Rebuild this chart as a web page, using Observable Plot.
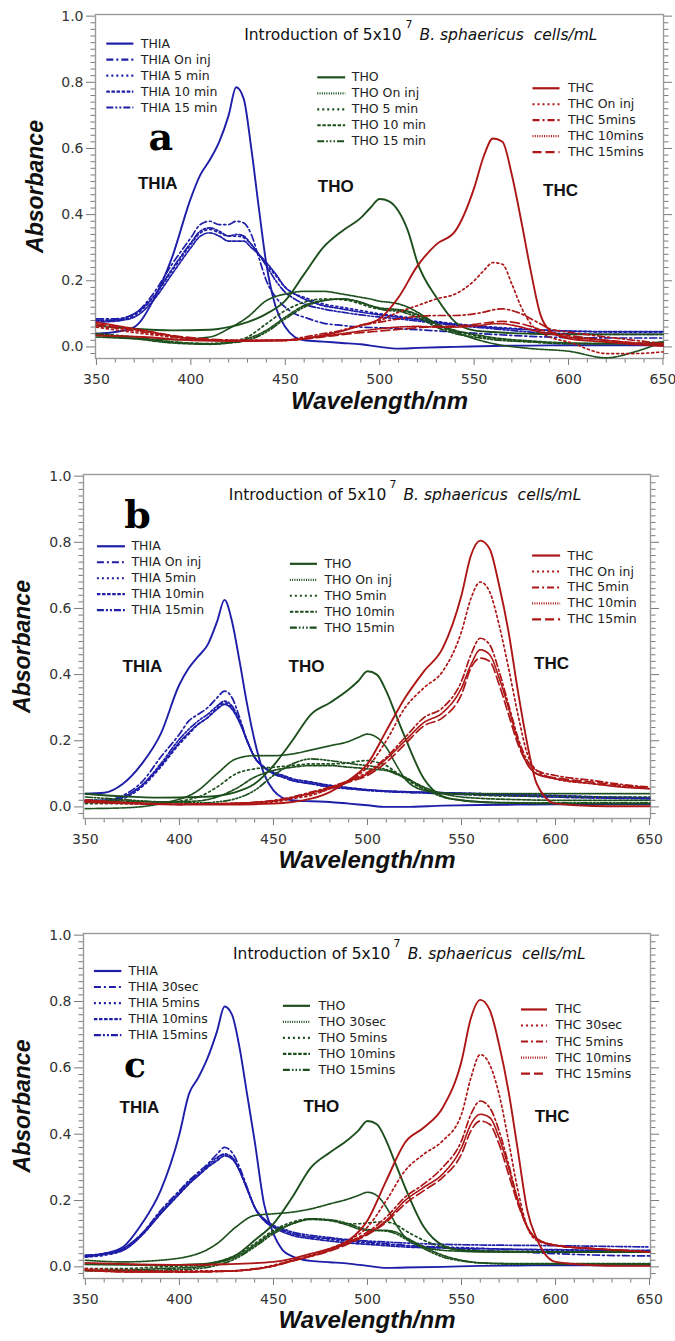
<!DOCTYPE html>
<html><head><meta charset="utf-8">
<script src="https://cdn.jsdelivr.net/npm/d3@7"></script>
<script src="https://cdn.jsdelivr.net/npm/@observablehq/plot@0.6"></script>
<style>
body{margin:0;background:#fff;width:675px;}
#chart svg{display:block;}
</style></head><body><div id="chart"></div>
<script>
// ---------- wavelength grids (nm) ----------
const WL_THIA = [350,360,370,380,390,400,405,410,415,420,424,428,432,436,440,445,450,455,460,470,480,490,500,510,520,540,560,580,600,625,650];
const WL_THO  = [350,370,390,410,420,430,440,450,460,470,480,490,495,500,505,510,515,520,530,540,550,560,580,600,620,635,650];
const WL_THC  = [350,375,400,425,450,460,470,480,490,500,510,520,530,540,550,555,560,565,570,575,580,585,590,600,620,635,650];

// ---------- panel a ----------
const aTHIA0 = [0.04,0.045,0.06,0.14,0.27,0.45,0.52,0.565,0.62,0.7,0.785,0.75,0.6,0.42,0.25,0.12,0.06,0.03,0.02,0.016,0.012,0.008,0.0,-0.005,-0.003,0.0,0.003,0.004,0.005,0.005,0.005];
const aTHIA1 = [0.085,0.085,0.1,0.16,0.25,0.33,0.37,0.38,0.37,0.37,0.38,0.375,0.34,0.27,0.2,0.15,0.12,0.1,0.09,0.072,0.065,0.06,0.058,0.055,0.052,0.045,0.038,0.032,0.028,0.027,0.027];
const aTHIA2 = [0.08,0.08,0.095,0.15,0.23,0.31,0.345,0.355,0.345,0.335,0.335,0.33,0.31,0.28,0.25,0.215,0.18,0.16,0.15,0.13,0.12,0.11,0.1,0.093,0.085,0.07,0.06,0.053,0.048,0.045,0.045];
const aTHIA3 = [0.075,0.078,0.09,0.14,0.22,0.3,0.335,0.345,0.335,0.32,0.32,0.32,0.3,0.28,0.255,0.22,0.18,0.16,0.145,0.125,0.115,0.105,0.097,0.09,0.082,0.068,0.058,0.052,0.048,0.046,0.046];
const aTHIA4 = [0.08,0.082,0.1,0.15,0.235,0.315,0.35,0.36,0.35,0.335,0.34,0.335,0.31,0.28,0.245,0.2,0.165,0.145,0.13,0.115,0.105,0.097,0.09,0.085,0.078,0.065,0.055,0.045,0.04,0.038,0.038];
const aTHO0 = [0.065,0.055,0.05,0.052,0.06,0.075,0.1,0.14,0.22,0.3,0.35,0.39,0.42,0.447,0.44,0.41,0.35,0.255,0.15,0.075,0.05,0.045,0.04,0.038,0.038,0.038,0.038];
const aTHO1 = [0.03,0.025,0.022,0.03,0.055,0.09,0.14,0.16,0.168,0.168,0.16,0.15,0.145,0.138,0.135,0.13,0.12,0.105,0.07,0.045,0.025,0.01,-0.005,-0.013,-0.033,-0.015,0.015];
const aTHO2 = [0.04,0.03,0.015,0.01,0.015,0.03,0.07,0.11,0.135,0.145,0.143,0.13,0.12,0.115,0.112,0.11,0.105,0.095,0.065,0.045,0.035,0.025,0.015,0.01,0.01,0.01,0.015];
const aTHO3 = [0.035,0.025,0.012,0.008,0.012,0.025,0.05,0.09,0.125,0.14,0.145,0.135,0.125,0.118,0.115,0.113,0.108,0.098,0.07,0.05,0.038,0.028,0.018,0.012,0.01,0.01,0.015];
const aTHO4 = [0.04,0.028,0.015,0.01,0.012,0.02,0.045,0.085,0.12,0.14,0.145,0.135,0.125,0.115,0.11,0.108,0.1,0.09,0.06,0.04,0.03,0.022,0.015,0.01,0.01,0.01,0.012];
const aTHC0 = [0.035,0.03,0.02,0.018,0.02,0.025,0.035,0.048,0.065,0.085,0.15,0.245,0.31,0.35,0.48,0.575,0.63,0.62,0.52,0.38,0.23,0.1,0.05,0.025,0.015,0.008,0.003];
const aTHC1 = [0.06,0.04,0.025,0.02,0.02,0.025,0.035,0.05,0.065,0.08,0.105,0.125,0.145,0.16,0.2,0.23,0.255,0.25,0.19,0.12,0.07,0.045,0.03,0.015,-0.02,-0.02,-0.015];
const aTHC2 = [0.065,0.045,0.025,0.02,0.02,0.03,0.04,0.05,0.065,0.075,0.085,0.092,0.095,0.095,0.1,0.105,0.112,0.115,0.11,0.1,0.085,0.07,0.055,0.045,0.03,0.02,0.01];
const aTHC3 = [0.075,0.05,0.025,0.018,0.02,0.025,0.032,0.04,0.048,0.055,0.06,0.062,0.06,0.06,0.063,0.066,0.07,0.07,0.066,0.06,0.052,0.045,0.04,0.03,0.02,0.012,0.008];
const aTHC4 = [0.07,0.048,0.028,0.02,0.02,0.024,0.03,0.037,0.043,0.048,0.053,0.058,0.062,0.063,0.068,0.072,0.075,0.077,0.075,0.07,0.062,0.052,0.045,0.035,0.02,0.012,0.008];

// ---------- panel b ----------
const bTHIA0 = [0.04,0.043,0.07,0.13,0.22,0.37,0.42,0.455,0.49,0.56,0.626,0.56,0.44,0.31,0.2,0.1,0.05,0.027,0.02,0.017,0.015,0.01,0.005,0.0,0.0,0.004,0.006,0.007,0.008,0.008,0.008];
const bTHIA1 = [0.02,0.02,0.035,0.075,0.15,0.22,0.26,0.28,0.3,0.33,0.35,0.33,0.27,0.2,0.15,0.12,0.1,0.09,0.08,0.07,0.06,0.055,0.05,0.047,0.045,0.042,0.038,0.034,0.03,0.027,0.025];
const bTHIA2 = [0.015,0.015,0.025,0.06,0.12,0.19,0.22,0.25,0.27,0.3,0.315,0.3,0.26,0.2,0.15,0.12,0.105,0.095,0.085,0.075,0.065,0.058,0.052,0.048,0.046,0.043,0.04,0.037,0.034,0.03,0.028];
const bTHIA3 = [0.018,0.018,0.03,0.065,0.125,0.195,0.225,0.25,0.27,0.295,0.31,0.295,0.255,0.2,0.15,0.12,0.105,0.095,0.085,0.075,0.065,0.058,0.052,0.048,0.046,0.043,0.04,0.037,0.034,0.03,0.028];
const bTHIA4 = [0.02,0.02,0.03,0.065,0.13,0.205,0.235,0.26,0.28,0.305,0.32,0.305,0.26,0.2,0.15,0.12,0.1,0.09,0.08,0.07,0.06,0.055,0.05,0.046,0.044,0.04,0.036,0.033,0.03,0.027,0.025];
const bTHO0 = [0.04,0.032,0.028,0.03,0.033,0.045,0.07,0.125,0.2,0.28,0.315,0.355,0.38,0.41,0.4,0.35,0.28,0.21,0.085,0.032,0.02,0.015,0.012,0.01,0.01,0.01,0.01];
const bTHO1 = [-0.005,-0.003,0.01,0.05,0.1,0.145,0.155,0.155,0.16,0.172,0.185,0.198,0.21,0.22,0.21,0.18,0.13,0.085,0.05,0.042,0.04,0.04,0.04,0.04,0.04,0.04,0.04];
const bTHO2 = [0.01,0.01,0.012,0.03,0.06,0.1,0.115,0.12,0.125,0.13,0.13,0.133,0.138,0.14,0.135,0.125,0.105,0.085,0.055,0.042,0.038,0.035,0.033,0.032,0.03,0.03,0.03];
const bTHO3 = [0.02,0.018,0.015,0.018,0.03,0.055,0.09,0.11,0.12,0.125,0.125,0.12,0.118,0.115,0.113,0.11,0.1,0.088,0.06,0.04,0.03,0.026,0.022,0.02,0.02,0.02,0.02];
const bTHO4 = [0.03,0.022,0.015,0.012,0.015,0.025,0.05,0.095,0.13,0.145,0.14,0.132,0.128,0.125,0.12,0.113,0.103,0.09,0.055,0.03,0.02,0.015,0.012,0.012,0.012,0.012,0.012];
const bTHC0 = [0.015,0.01,0.007,0.007,0.01,0.015,0.025,0.045,0.08,0.13,0.23,0.33,0.41,0.48,0.64,0.76,0.805,0.78,0.67,0.53,0.35,0.19,0.07,0.01,0.003,0.002,0.002];
const bTHC1 = [0.015,0.01,0.008,0.01,0.015,0.025,0.035,0.055,0.08,0.12,0.2,0.3,0.36,0.41,0.53,0.63,0.68,0.65,0.55,0.42,0.28,0.16,0.11,0.085,0.07,0.062,0.055];
const bTHC2 = [0.02,0.012,0.008,0.01,0.02,0.03,0.045,0.06,0.08,0.105,0.15,0.21,0.27,0.3,0.38,0.46,0.51,0.49,0.41,0.31,0.21,0.14,0.11,0.095,0.08,0.068,0.06];
const bTHC3 = [0.02,0.012,0.008,0.01,0.018,0.028,0.042,0.058,0.078,0.1,0.145,0.2,0.255,0.285,0.36,0.43,0.475,0.46,0.39,0.3,0.2,0.13,0.1,0.085,0.07,0.06,0.055];
const bTHC4 = [0.02,0.012,0.008,0.01,0.018,0.028,0.04,0.055,0.075,0.095,0.135,0.19,0.245,0.27,0.34,0.42,0.45,0.44,0.37,0.28,0.19,0.13,0.1,0.088,0.075,0.065,0.058];

// ---------- panel c ----------
const cTHIA0 = [0.03,0.04,0.06,0.13,0.23,0.4,0.52,0.57,0.63,0.71,0.785,0.76,0.66,0.52,0.38,0.19,0.1,0.05,0.032,0.018,0.014,0.01,0.003,-0.003,-0.002,0.0,0.003,0.004,0.005,0.005,0.005];
const cTHIA1 = [0.035,0.04,0.055,0.1,0.17,0.23,0.26,0.285,0.31,0.34,0.36,0.345,0.3,0.24,0.18,0.14,0.12,0.11,0.1,0.09,0.085,0.08,0.075,0.07,0.065,0.058,0.05,0.045,0.04,0.035,0.033];
const cTHIA2 = [0.03,0.035,0.05,0.095,0.16,0.22,0.25,0.275,0.3,0.325,0.34,0.33,0.29,0.235,0.18,0.14,0.12,0.11,0.1,0.09,0.083,0.077,0.072,0.068,0.064,0.06,0.056,0.052,0.05,0.048,0.047];
const cTHIA3 = [0.033,0.038,0.05,0.095,0.16,0.22,0.25,0.275,0.3,0.32,0.335,0.325,0.29,0.235,0.18,0.14,0.12,0.105,0.095,0.085,0.078,0.072,0.068,0.064,0.06,0.057,0.055,0.053,0.052,0.05,0.05];
const cTHIA4 = [0.035,0.04,0.055,0.1,0.165,0.225,0.255,0.28,0.305,0.33,0.34,0.33,0.29,0.235,0.18,0.145,0.125,0.115,0.105,0.095,0.088,0.082,0.078,0.075,0.072,0.068,0.066,0.065,0.064,0.062,0.06];
const cTHO0 = [0.008,0.006,0.005,0.008,0.015,0.035,0.08,0.13,0.21,0.3,0.345,0.385,0.41,0.44,0.43,0.38,0.31,0.24,0.12,0.065,0.05,0.048,0.046,0.045,0.045,0.045,0.045];
const cTHO1 = [0.02,0.015,0.02,0.04,0.07,0.12,0.155,0.16,0.165,0.175,0.19,0.205,0.215,0.225,0.215,0.18,0.13,0.09,0.06,0.05,0.047,0.045,0.045,0.045,0.045,0.045,0.045];
const cTHO2 = [-0.005,-0.005,0.0,0.005,0.015,0.035,0.07,0.11,0.135,0.145,0.14,0.13,0.13,0.132,0.135,0.135,0.128,0.11,0.08,0.06,0.05,0.047,0.045,0.045,0.045,0.045,0.045];
const cTHO3 = [-0.01,-0.01,-0.005,0.0,0.012,0.03,0.065,0.105,0.13,0.143,0.14,0.125,0.115,0.11,0.11,0.11,0.105,0.09,0.06,0.035,0.02,0.012,0.01,0.01,0.01,0.01,0.01];
const cTHO4 = [-0.012,-0.012,-0.01,-0.005,0.005,0.025,0.06,0.1,0.13,0.145,0.142,0.13,0.12,0.113,0.11,0.108,0.1,0.085,0.055,0.03,0.018,0.012,0.008,0.008,0.008,0.008,0.008];
const cTHC0 = [0.012,0.008,0.006,0.008,0.015,0.025,0.04,0.055,0.08,0.14,0.26,0.375,0.42,0.48,0.62,0.75,0.805,0.775,0.67,0.53,0.35,0.17,0.085,0.015,0.005,0.003,0.003];
const cTHC1 = [-0.005,-0.01,-0.012,-0.012,0.005,0.02,0.035,0.055,0.08,0.12,0.2,0.29,0.34,0.38,0.46,0.57,0.64,0.61,0.52,0.38,0.23,0.12,0.08,0.065,0.055,0.05,0.045];
const cTHC2 = [-0.01,-0.015,-0.015,-0.013,0.003,0.018,0.033,0.05,0.075,0.105,0.15,0.21,0.25,0.3,0.38,0.46,0.5,0.48,0.41,0.31,0.2,0.12,0.085,0.065,0.055,0.05,0.045];
const cTHC3 = [-0.01,-0.015,-0.015,-0.013,0.003,0.018,0.033,0.05,0.073,0.1,0.14,0.2,0.24,0.28,0.36,0.43,0.46,0.45,0.39,0.3,0.2,0.12,0.085,0.065,0.055,0.05,0.045];
const cTHC4 = [-0.01,-0.015,-0.015,-0.013,0.003,0.018,0.032,0.048,0.07,0.097,0.135,0.19,0.23,0.27,0.34,0.41,0.44,0.43,0.37,0.28,0.19,0.12,0.085,0.065,0.055,0.05,0.045];

// ---------- legend labels ----------
const LBL_A_THIA = ["THIA","THIA On inj","THIA 5 min","THIA 10 min","THIA 15 min"];
const LBL_A_THO  = ["THO","THO On inj","THO 5 min","THO 10 min","THO 15 min"];
const LBL_A_THC  = ["THC","THC On inj","THC 5mins","THC 10mins","THC 15mins"];
const LBL_B_THIA = ["THIA","THIA On inj","THIA 5min","THIA 10min","THIA 15min"];
const LBL_B_THO  = ["THO","THO On inj","THO 5min","THO 10min","THO 15min"];
const LBL_B_THC  = ["THC","THC On inj","THC 5min","THC 10min","THC 15min"];
const LBL_C_THIA = ["THIA","THIA 30sec","THIA 5mins","THIA 10mins","THIA 15mins"];
const LBL_C_THO  = ["THO","THO 30sec","THO 5mins","THO 10mins","THO 15mins"];
const LBL_C_THC  = ["THC","THC 30sec","THC 5mins","THC 10mins","THC 15mins"];
const GROUP_NAMES = ["THIA","THO","THC"];
const TITLE_MAIN = "Introduction of 5x10";
const TITLE_SUP = "7";
const TITLE_ITAL = "B. sphaericus\u00a0\u00a0cells/mL";
const X_LABEL = "Wavelength/nm";
const Y_LABEL = "Absorbance";

// ---------- ticks ----------
const X_MAJOR = [350,400,450,500,550,600,650];
const X_MINOR = d3.range(350, 651, 10).filter(v => v % 50 !== 0);
const Y_MAJOR = [0,0.2,0.4,0.6,0.8,1.0];
const Y_MINOR = d3.range(-1, 51).filter(i => i % 10 !== 0).map(i => i / 50);

// ---------- styles ----------
const COLORS = ["#1e1ea8", "#1d4f1d", "#ad1616"];
const DASH = [
  [null, "7,3,2,3", "2,3", "3.5,1.6", "7,2,2,2,2,2"],
  [null, "1,1.3", "2,3", "3.5,1.6", "7,2,1.6,2,1.6,2,1.6,2"],
  [null, "2,3", "7,3,2,3", "1,1.3", "9,4"]
];
const LEG_STEP = 0.0483;

const PANELS = [
  {letter:"a", height:440, mt:14, mb:82, ml:95, mr:12, xdom:[349.5,650.3],
   series:[[aTHIA0,aTHIA1,aTHIA2,aTHIA3,aTHIA4],[aTHO0,aTHO1,aTHO2,aTHO3,aTHO4],[aTHC0,aTHC1,aTHC2,aTHC3,aTHC4]],
   labels:[LBL_A_THIA,LBL_A_THO,LBL_A_THC],
   legend:[[355.5,369.8,373.5,0.917],[467.2,482,485.2,0.815],[581.2,595.5,599.7,0.782]],
   notes:[[382.5,0.494],[476.7,0.485],[595.8,0.473]],
   title:{endX:511.6, startItal:521.1, supX:513.7, y:0.942, supY:0.975},
   letterPos:[384.1,0.632], letterSize:38, yLabelX:317.7, xLabelDy:50},
  {letter:"b", height:450, mt:34, mb:72, ml:83, mr:25, xdom:[349,650.5],
   series:[[bTHIA0,bTHIA1,bTHIA2,bTHIA3,bTHIA4],[bTHO0,bTHO1,bTHO2,bTHO3,bTHO4],[bTHC0,bTHC1,bTHC2,bTHC3,bTHC4]],
   labels:[LBL_B_THIA,LBL_B_THO,LBL_B_THC],
   legend:[[356.4,371.3,374.5,0.788],[459,473.4,477.1,0.735],[587.8,602.7,606.4,0.76]],
   notes:[[380.3,0.424],[467.6,0.424],[597.9,0.433]],
   title:{endX:510, startItal:519.1, supX:511.7, y:0.944, supY:0.975},
   letterPos:[377.7,0.881], letterSize:38, yLabelX:316.7, xLabelDy:49},
  {letter:"c", height:451, mt:43, mb:63, ml:83, mr:25, xdom:[349,650.5],
   series:[[cTHIA0,cTHIA1,cTHIA2,cTHIA3,cTHIA4],[cTHO0,cTHO1,cTHO2,cTHO3,cTHO4],[cTHC0,cTHC1,cTHC2,cTHC3,cTHC4]],
   labels:[LBL_C_THIA,LBL_C_THO,LBL_C_THC],
   legend:[[354.8,369.4,372.9,0.892],[455.3,469.7,473.9,0.787],[581.9,595.7,600,0.776]],
   notes:[[378.7,0.48],[475.5,0.482],[598.2,0.454]],
   title:{endX:512.2, startItal:521.4, supX:513.8, y:0.942, supY:0.975},
   letterPos:[376.3,0.607], letterSize:36, yLabelX:316.7, xLabelDy:49}
];
const WLS = [WL_THIA, WL_THO, WL_THC];

function buildPanel(p) {
  const marks = [];
  // axes
  marks.push(Plot.axisY(Y_MINOR, {anchor:"left", tickSize:4.5, tickFormat:() => "", label:null, stroke:"#7a7a7a"}));
  marks.push(Plot.axisY(Y_MAJOR, {anchor:"left", tickSize:9, tickPadding:3, tickFormat:d3.format(".1f"), label:null, fontSize:14, stroke:"#7a7a7a", fill:"#333"}));
  marks.push(Plot.axisY(Y_MINOR, {anchor:"right", tickSize:4.5, tickFormat:() => "", label:null, stroke:"#7a7a7a"}));
  marks.push(Plot.axisY(Y_MAJOR, {anchor:"right", tickSize:8, tickFormat:() => "", label:null, stroke:"#7a7a7a"}));
  marks.push(Plot.axisX(X_MINOR, {anchor:"bottom", tickSize:4.5, tickFormat:() => "", label:null, stroke:"#7a7a7a"}));
  marks.push(Plot.axisX(X_MAJOR, {anchor:"bottom", tickSize:7, tickPadding:9, tickFormat:d => String(d), label:null, fontSize:14, stroke:"#7a7a7a", fill:"#333"}));
  marks.push(Plot.frame({stroke:"#9a9a9a", strokeWidth:1.4}));
  // curves
  p.series.forEach((grp, gi) => {
    grp.forEach((vals, si) => {
      const rows = WLS[gi].map((w, j) => ({w, a: vals[j]}));
      marks.push(Plot.line(rows, {x:"w", y:"a", stroke:COLORS[gi], strokeWidth: si === 0 ? 1.9 : 1.7,
        strokeDasharray: DASH[gi][si] || undefined, curve:"monotone-x"}));
    });
  });
  // legends
  p.labels.forEach((labs, gi) => {
    const L = p.legend[gi];
    const rows = labs.map((label, i) => ({x1:L[0], x2:L[1], xt:L[2], y:L[3] - i * LEG_STEP, label, dash:DASH[gi][i]}));
    rows.forEach(r => marks.push(Plot.ruleY([r], {y:"y", x1:"x1", x2:"x2", stroke:COLORS[gi], strokeWidth:2.2, strokeDasharray:r.dash || undefined})));
    marks.push(Plot.text(rows, {x:"xt", y:"y", text:"label", textAnchor:"start", fontSize:12.5, fill:"#222"}));
  });
  // group annotations
  const notes = GROUP_NAMES.map((n, i) => ({x:p.notes[i][0], y:p.notes[i][1], n}));
  marks.push(Plot.text(notes, {x:"x", y:"y", text:"n", fontSize:17, fontWeight:"bold", fontFamily:"Liberation Sans", fill:"#111"}));
  // title
  const t = p.title;
  marks.push(Plot.text([{x:t.endX, y:t.y, s:TITLE_MAIN}], {x:"x", y:"y", text:"s", textAnchor:"end", fontSize:15.5, fill:"#111"}));
  marks.push(Plot.text([{x:t.supX, y:t.supY, s:TITLE_SUP}], {x:"x", y:"y", text:"s", textAnchor:"start", fontSize:11, fill:"#111"}));
  marks.push(Plot.text([{x:t.startItal, y:t.y, s:TITLE_ITAL}], {x:"x", y:"y", text:"s", textAnchor:"start", fontSize:15.5, fontStyle:"italic", fill:"#111"}));
  // panel letter
  marks.push(Plot.text([{x:p.letterPos[0], y:p.letterPos[1], s:p.letter}], {x:"x", y:"y", text:"s", fontSize:p.letterSize, fontWeight:"bold", fontFamily:"DejaVu Serif", fill:"#000"}));
  // axis labels
  marks.push(Plot.text([X_LABEL], {frameAnchor:"bottom", dy:p.xLabelDy, text:d => d, fontSize:24, fontWeight:"bold", fontStyle:"italic", fontFamily:"Liberation Sans", fill:"#111"}));
  marks.push(Plot.text([Y_LABEL], {x:() => p.yLabelX, frameAnchor:"middle", rotate:-90, text:d => d, fontSize:23, fontWeight:"bold", fontStyle:"italic", fontFamily:"Liberation Sans", fill:"#111"}));

  return Plot.plot({
    width:675, height:p.height,
    marginTop:p.mt, marginBottom:p.mb, marginLeft:p.ml, marginRight:p.mr,
    x:{domain:p.xdom}, y:{domain:[-0.035, 1.005]},
    style:{fontFamily:"DejaVu Sans", fontSize:"14px", color:"#222", background:"#fff", overflow:"visible"},
    marks
  });
}

const root = document.getElementById("chart");
PANELS.forEach(p => root.appendChild(buildPanel(p)));
</script>
</body></html>
